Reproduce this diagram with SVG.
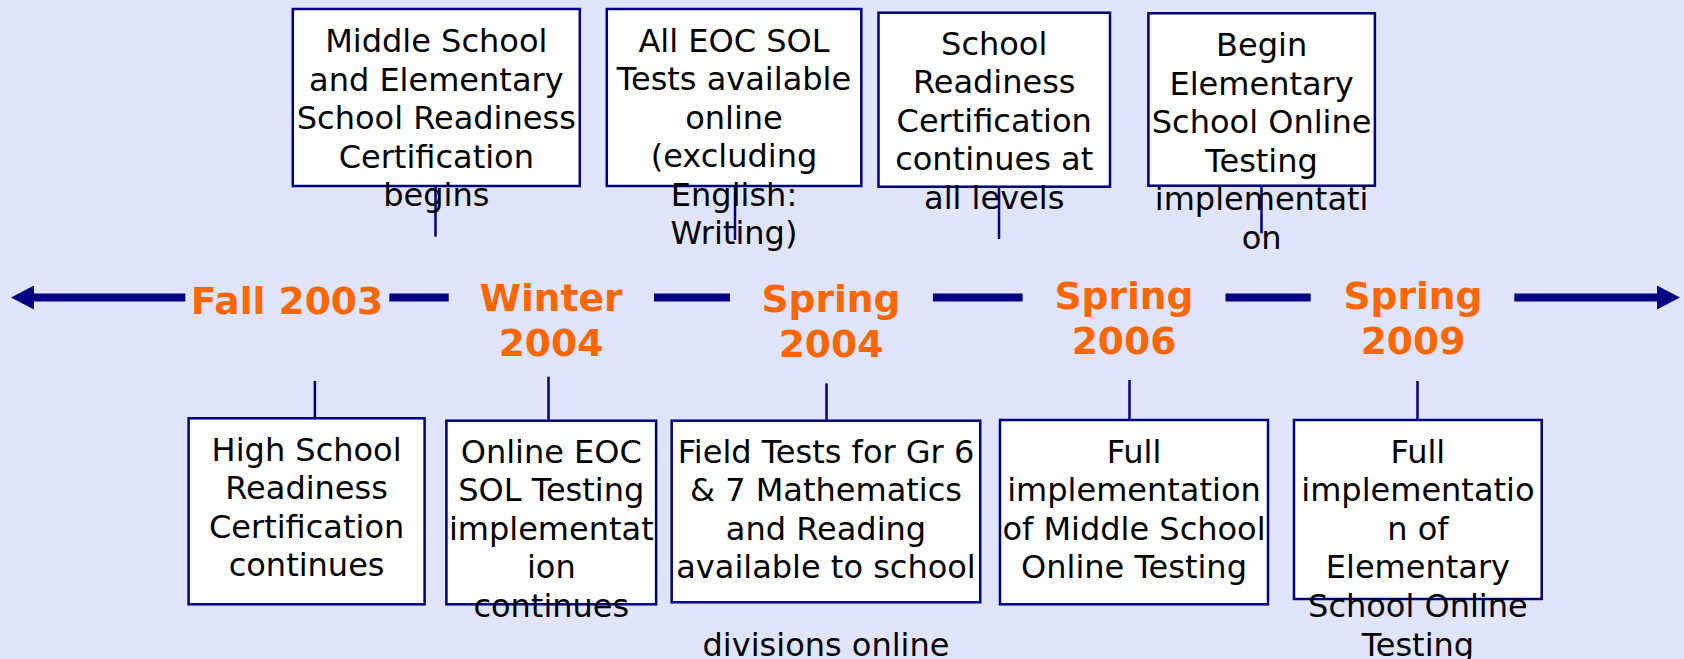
<svg xmlns="http://www.w3.org/2000/svg" width="1684" height="659" viewBox="0 0 1684 659">
<defs>
<style>
.bg{fill:#E0E4FC}
.box{fill:#FFFFFF;stroke:#000080;stroke-width:2.5}
.t{font-family:"DejaVu Sans","Liberation Sans",sans-serif;font-size:32px;fill:#000000;text-anchor:middle}
.d{font-family:"DejaVu Sans","Liberation Sans",sans-serif;font-size:37.6px;font-weight:bold;fill:#FF6600;text-anchor:middle}
.tick{stroke:#000080;stroke-width:2.5;fill:none}
.axis{stroke:#000080;stroke-width:8;fill:none}
</style>
<marker id="ah" markerUnits="userSpaceOnUse" markerWidth="23" markerHeight="24" refX="0" refY="12" orient="auto-start-reverse" viewBox="0 0 23 24"><path d="M0,0 L23,12 L0,24 z" fill="#000080"/></marker>
</defs>
<rect class="bg" x="0" y="0" width="1684" height="659"/>

<g id="connectors">
<path class="axis" d="M34,297.5 H185.3 M389.3,297.5 H448.7 M654,297.5 H730 M932.9,297.5 H1022.6 M1225.5,297.5 H1310.7 M1514.3,297.5 H1657" marker-start="url(#ah)" marker-end="url(#ah)"/>
<line class="tick" x1="435.5" y1="186" x2="435.5" y2="236.7"/>
<line class="tick" x1="735" y1="186" x2="735" y2="240"/>
<line class="tick" x1="999" y1="186.7" x2="999" y2="239"/>
<line class="tick" x1="1261.5" y1="185.7" x2="1261.5" y2="233.3"/>
<line class="tick" x1="314.9" y1="381" x2="314.9" y2="418.3"/>
<line class="tick" x1="548.5" y1="376.7" x2="548.5" y2="420.7"/>
<line class="tick" x1="826.5" y1="383.3" x2="826.5" y2="420.7"/>
<line class="tick" x1="1129.5" y1="380" x2="1129.5" y2="420"/>
<line class="tick" x1="1417.5" y1="381" x2="1417.5" y2="420"/>
</g>

<g id="date-fall2003"><text class="d" x="287" y="313.5">Fall 2003</text></g>
<g id="date-winter2004"><text class="d" x="551" y="310.5">Winter<tspan x="551" y="355.5">2004</tspan></text></g>
<g id="date-spring2004"><text class="d" x="831" y="312">Spring<tspan x="831" y="357">2004</tspan></text></g>
<g id="date-spring2006"><text class="d" x="1124" y="308.5">Spring<tspan x="1124" y="353.5">2006</tspan></text></g>
<g id="date-spring2009"><text class="d" x="1413" y="308.5">Spring<tspan x="1413" y="353.5">2009</tspan></text></g>

<g id="top1"><rect class="box" x="292.8" y="9" width="287" height="177"/>
<text class="t" x="436.3" y="52.3">Middle School<tspan x="436.3" dy="38.5">and Elementary</tspan><tspan x="436.3" dy="38.5">School Readiness</tspan><tspan x="436.3" dy="38.5">Certification</tspan><tspan x="436.3" dy="38.5">begins</tspan></text></g>

<g id="top2"><rect class="box" x="606.8" y="9" width="254.5" height="177"/>
<text class="t" x="734" y="51.5">All EOC SOL<tspan x="734" dy="38.5">Tests available</tspan><tspan x="734" dy="38.5">online</tspan><tspan x="734" dy="38.5">(excluding</tspan><tspan x="734" dy="38.5">English:</tspan><tspan x="734" dy="38.5">Writing)</tspan></text></g>

<g id="top3"><rect class="box" x="878.5" y="12.7" width="231.5" height="174"/>
<text class="t" x="994.2" y="54.5">School<tspan x="994.2" dy="38.5">Readiness</tspan><tspan x="994.2" dy="38.5">Certification</tspan><tspan x="994.2" dy="38.5">continues at</tspan><tspan x="994.2" dy="38.5">all levels</tspan></text></g>

<g id="top4"><rect class="box" x="1148.4" y="13.3" width="226.5" height="172.4"/>
<text class="t" x="1261.6" y="56">Begin<tspan x="1261.6" dy="38.5">Elementary</tspan><tspan x="1261.6" dy="38.5">School Online</tspan><tspan x="1261.6" dy="38.5">Testing</tspan><tspan x="1261.6" dy="38.5">implementati</tspan><tspan x="1261.6" dy="38.5">on</tspan></text></g>

<g id="bot1"><rect class="box" x="188.6" y="418.3" width="236" height="186"/>
<text class="t" x="306.6" y="460.5">High School<tspan x="306.6" dy="38.6">Readiness</tspan><tspan x="306.6" dy="38.6">Certification</tspan><tspan x="306.6" dy="38.6">continues</tspan></text></g>

<g id="bot2"><rect class="box" x="446.4" y="420.7" width="209.7" height="183.6"/>
<text class="t" x="551.3" y="462.6">Online EOC<tspan x="551.3" dy="38.6">SOL Testing</tspan><tspan x="551.3" dy="38.6">implementat</tspan><tspan x="551.3" dy="38.6">ion</tspan><tspan x="551.3" dy="38.6">continues</tspan></text></g>

<g id="bot3"><rect class="box" x="671.7" y="420.7" width="308.5" height="181.6"/>
<text class="t" x="826" y="462.6">Field Tests for Gr 6<tspan x="826" dy="38.6">&amp; 7 Mathematics</tspan><tspan x="826" dy="38.6">and Reading</tspan><tspan x="826" dy="38.6">available to school</tspan><tspan x="826" dy="77.2">divisions online</tspan></text></g>

<g id="bot4"><rect class="box" x="1000" y="420" width="268" height="184.3"/>
<text class="t" x="1134" y="462.6">Full<tspan x="1134" dy="38.6">implementation</tspan><tspan x="1134" dy="38.6">of Middle School</tspan><tspan x="1134" dy="38.6">Online Testing</tspan></text></g>

<g id="bot5"><rect class="box" x="1294" y="420" width="247.7" height="179"/>
<text class="t" x="1417.9" y="462.6">Full<tspan x="1417.9" dy="38.6">implementatio</tspan><tspan x="1417.9" dy="38.6">n of</tspan><tspan x="1417.9" dy="38.6">Elementary</tspan><tspan x="1417.9" dy="38.6">School Online</tspan><tspan x="1417.9" dy="38.6">Testing</tspan></text></g>
</svg>
